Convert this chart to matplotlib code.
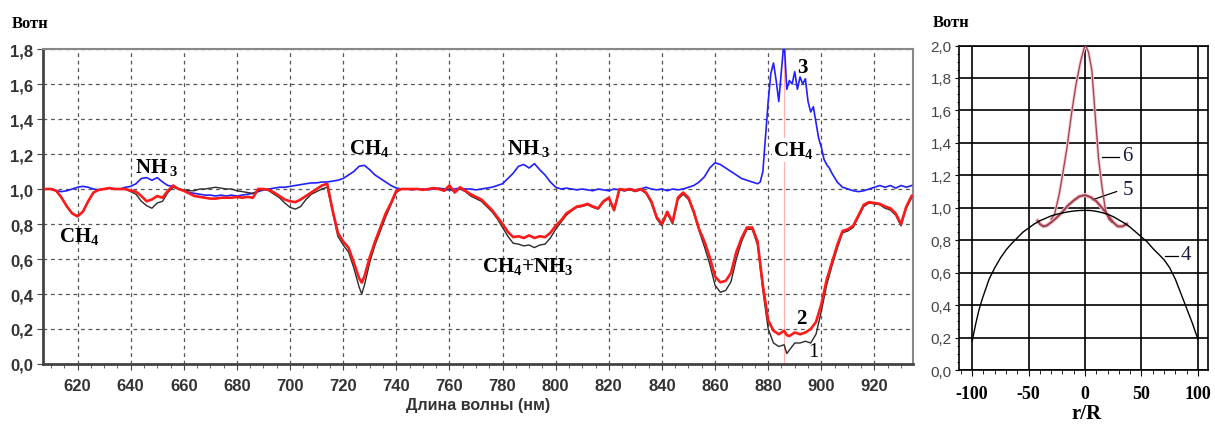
import matplotlib.pyplot as plt
from matplotlib.ticker import MultipleLocator

plt.rcParams['mathtext.fontset'] = 'custom'
plt.rcParams['mathtext.rm'] = 'Liberation Serif'
plt.rcParams['mathtext.bf'] = 'Liberation Serif:bold'

# --- левый график: спектры (длина волны, нм) ---
wl_rb = [608, 610, 612, 614, 616, 618, 620, 622, 624, 626,
         628, 630, 632, 634, 636, 638, 640, 642, 644, 646,
         648, 650, 652, 654, 656, 658, 660, 662, 664, 666,
         668, 670, 672, 674, 676, 678, 680, 682, 684, 686,
         688, 690, 692, 694, 696, 698, 700, 702, 704, 706,
         708, 710, 712, 714, 716, 718, 720, 722, 724, 726, 727,
         728, 730, 732, 734, 736, 738, 740, 742, 744, 746,
         748, 750, 752, 754, 756, 758, 760, 762, 764, 766,
         768, 770, 772, 774, 776, 778, 780, 782, 784, 786,
         788, 790, 792, 794, 796, 798, 800, 802, 804, 806,
         808, 810, 812, 814, 816, 818, 820, 822, 824, 826,
         828, 830, 832, 834, 836, 838, 840, 842, 844, 846,
         848, 850, 852, 854, 856, 858, 860, 862, 864, 866,
         868, 870, 872, 874, 876, 878, 880, 882, 884, 886, 887,
         888, 890, 892, 894, 896, 898, 900, 902, 904, 906,
         908, 910, 912, 914, 916, 918, 920, 922, 924, 926,
         928, 930, 932, 934]

# кривая 2 (красная)
r2 = [1.00, 1.00, 0.99, 0.95, 0.90, 0.86, 0.845, 0.87, 0.93, 0.98,
      0.995, 1.00, 1.005, 1.00, 1.00, 1.00, 0.99, 0.985, 0.96, 0.93,
      0.94, 0.96, 0.95, 0.99, 1.02, 1.00, 0.99, 0.975, 0.96, 0.955,
      0.95, 0.945, 0.945, 0.95, 0.95, 0.95, 0.955, 0.95, 0.955, 0.95,
      1.00, 1.00, 0.995, 0.98, 0.96, 0.94, 0.93, 0.925, 0.94, 0.96,
      0.98, 1.00, 1.02, 1.03, 0.88, 0.75, 0.70, 0.665, 0.58, 0.49, 0.465,
      0.50, 0.61, 0.70, 0.78, 0.86, 0.92, 0.99, 1.00, 1.00, 1.00,
      1.00, 0.995, 1.00, 1.005, 1.00, 0.99, 1.02, 0.98, 1.01, 0.99,
      0.97, 0.955, 0.94, 0.91, 0.88, 0.84, 0.80, 0.755, 0.725, 0.73,
      0.72, 0.735, 0.72, 0.73, 0.725, 0.75, 0.79, 0.82, 0.86, 0.88,
      0.90, 0.905, 0.915, 0.90, 0.89, 0.93, 0.95, 0.88, 1.00, 0.995,
      1.00, 0.99, 1.00, 0.98, 0.93, 0.84, 0.80, 0.87, 0.81, 0.95,
      0.98, 0.95, 0.87, 0.77, 0.70, 0.61, 0.50, 0.467, 0.475, 0.52,
      0.64, 0.72, 0.78, 0.78, 0.70, 0.45, 0.25, 0.19, 0.17, 0.19, 0.165,
      0.16, 0.18, 0.17, 0.18, 0.20, 0.24, 0.34, 0.48, 0.58, 0.68,
      0.76, 0.77, 0.79, 0.85, 0.91, 0.925, 0.92, 0.915, 0.90, 0.89,
      0.86, 0.80, 0.90, 0.96]

# кривая 1 (чёрная)
k1 = [1.00, 1.00, 0.99, 0.95, 0.90, 0.86, 0.84, 0.87, 0.93, 0.98,
      0.995, 1.00, 1.005, 1.00, 1.00, 1.00, 0.985, 0.97, 0.93, 0.905,
      0.89, 0.92, 0.93, 0.98, 1.01, 1.00, 0.995, 0.99, 0.99, 1.00,
      1.00, 1.005, 1.01, 1.005, 1.00, 1.00, 0.99, 0.985, 0.98, 0.975,
      0.99, 1.00, 0.99, 0.97, 0.95, 0.92, 0.895, 0.885, 0.90, 0.94,
      0.97, 0.985, 1.00, 1.01, 0.87, 0.73, 0.68, 0.64, 0.55, 0.44, 0.40,
      0.45, 0.58, 0.68, 0.76, 0.84, 0.91, 0.98, 1.00, 1.00, 1.00,
      1.00, 0.995, 1.00, 1.005, 1.00, 0.99, 1.00, 0.985, 1.00, 0.985,
      0.96, 0.945, 0.93, 0.90, 0.87, 0.83, 0.78, 0.73, 0.69, 0.685,
      0.675, 0.68, 0.665, 0.68, 0.685, 0.72, 0.77, 0.81, 0.85, 0.875,
      0.895, 0.90, 0.91, 0.895, 0.885, 0.925, 0.945, 0.875, 0.995, 0.99,
      0.995, 0.985, 0.995, 0.975, 0.92, 0.83, 0.79, 0.86, 0.80, 0.94,
      0.97, 0.94, 0.86, 0.76, 0.67, 0.57, 0.45, 0.41, 0.42, 0.47,
      0.60, 0.70, 0.77, 0.77, 0.68, 0.42, 0.20, 0.12, 0.10, 0.11, 0.06,
      0.08, 0.12, 0.12, 0.13, 0.12, 0.17, 0.30, 0.45, 0.56, 0.66,
      0.75, 0.76, 0.78, 0.84, 0.90, 0.92, 0.915, 0.91, 0.89, 0.88,
      0.85, 0.79, 0.89, 0.95]

# кривая 3 (синяя)
wl_blue = [608, 610, 612, 614, 616, 618, 620, 622, 624, 626,
           628, 630, 632, 634, 636, 638, 640, 642, 644, 646,
           648, 650, 652, 654, 656, 658, 660, 662, 664, 666,
           668, 670, 672, 674, 676, 678, 680, 682, 684, 686,
           688, 690, 692, 694, 696, 698, 700, 702, 704, 706,
           708, 710, 712, 714, 716, 718, 720, 722, 724, 726,
           728, 730, 732, 734, 736, 738, 740, 742, 744, 746,
           748, 750, 752, 754, 756, 758, 760, 762, 764, 766,
           768, 770, 772, 774, 776, 778, 780, 782, 784, 786,
           788, 790, 792, 794, 796, 798, 800, 802, 804, 806,
           808, 810, 812, 814, 816, 818, 820, 822, 824, 826,
           828, 830, 832, 834, 836, 838, 840, 842, 844, 846,
           848, 850, 852, 854, 856, 858, 860, 862, 864, 866,
           868, 870, 872, 874,
           876, 877, 878, 879, 880, 881, 882, 883, 884, 885,
           886, 887, 888, 889, 890, 891, 892, 893, 894, 895,
           896, 897, 898, 899, 900, 901, 902, 903, 904,
           906, 908, 910, 912, 914, 916, 918, 920, 922, 924,
           926, 928, 930, 932, 934]
b3 = [1.00, 1.00, 0.99, 0.985, 0.99, 1.00, 1.01, 1.015, 1.01, 1.00,
      0.995, 1.00, 1.005, 1.00, 1.00, 1.01, 1.015, 1.03, 1.06, 1.065,
      1.05, 1.065, 1.04, 1.02, 1.015, 1.00, 0.99, 0.98, 0.975, 0.97,
      0.965, 0.965, 0.96, 0.965, 0.96, 0.965, 0.96, 0.965, 0.97, 0.975,
      0.985, 0.995, 1.00, 1.005, 1.01, 1.01, 1.015, 1.02, 1.025, 1.03,
      1.035, 1.035, 1.04, 1.04, 1.045, 1.05, 1.06, 1.08, 1.10, 1.13,
      1.135, 1.11, 1.08, 1.06, 1.04, 1.02, 1.005, 1.00, 1.00, 0.995,
      1.00, 1.00, 0.995, 1.00, 1.005, 1.00, 0.995, 1.00, 1.005, 1.00,
      1.00, 0.995, 1.00, 1.005, 1.01, 1.02, 1.03, 1.06, 1.09, 1.13,
      1.14, 1.12, 1.145, 1.11, 1.08, 1.04, 1.01, 1.00, 1.005, 1.00,
      0.995, 1.00, 0.995, 0.99, 1.00, 0.995, 0.99, 1.00, 0.995, 0.99,
      1.00, 0.995, 1.00, 1.01, 1.00, 0.995, 1.00, 0.99, 1.00, 0.995,
      1.00, 1.01, 1.02, 1.04, 1.07, 1.12, 1.15, 1.14, 1.12, 1.10,
      1.08, 1.06, 1.05, 1.04,
      1.03, 1.04, 1.10, 1.30, 1.50, 1.66, 1.72, 1.62, 1.50, 1.68,
      1.85, 1.57, 1.62, 1.60, 1.67, 1.57, 1.64, 1.60, 1.63, 1.50,
      1.44, 1.47, 1.38, 1.29, 1.24, 1.17, 1.14, 1.12, 1.09,
      1.04, 1.01, 1.00, 0.99, 0.985, 0.99, 1.00, 1.01, 1.02, 1.01,
      1.02, 1.005, 1.02, 1.01, 1.02]

x_ticks = [620, 640, 660, 680, 700, 720, 740, 760, 780, 800, 820, 840, 860, 880, 900, 920]
y_ticks = [0.0, 0.2, 0.4, 0.6, 0.8, 1.0, 1.2, 1.4, 1.6, 1.8]
y_labels = ['0,0', '0,2', '0,4', '0,6', '0,8', '1,0', '1,2', '1,4', '1,6', '1,8']

# --- правый график: профили по r/R ---
x4 = [-100, -97, -94, -91, -88, -85, -80, -75, -70, -65, -60, -55, -50, -45, -40,
      -35, -30, -25, -20, -15, -10, -5, 0, 5, 10, 15, 20, 25, 30, 35, 40, 45,
      50, 55, 60, 65, 70, 75, 80, 85, 90, 95, 100]
y4 = [0.18, 0.28, 0.37, 0.44, 0.50, 0.56, 0.63, 0.69, 0.74, 0.78, 0.815, 0.85, 0.875,
      0.90, 0.92, 0.935, 0.95, 0.96, 0.968, 0.975, 0.98, 0.983, 0.984, 0.983, 0.978,
      0.97, 0.96, 0.945, 0.925, 0.905, 0.88, 0.85, 0.82, 0.79, 0.75, 0.715, 0.68,
      0.63, 0.56, 0.47, 0.38, 0.29, 0.19]
x5 = [-42, -40, -37, -34, -30, -25, -20, -15, -10, -5, 0, 5, 10, 15, 20, 25, 29, 33, 37]
y5 = [0.92, 0.90, 0.885, 0.89, 0.91, 0.94, 0.975, 1.015, 1.045, 1.07, 1.078, 1.065,
      1.04, 1.00, 0.955, 0.91, 0.885, 0.885, 0.90]
x6 = [-30, -27, -23, -20, -16, -12, -8, -4, -1, 0.5, 3, 6, 9, 12, 15, 18, 21, 24]
y6 = [0.93, 0.96, 1.08, 1.20, 1.37, 1.58, 1.76, 1.90, 1.98, 2.0, 1.96, 1.85, 1.57,
      1.30, 1.13, 0.99, 0.93, 0.91]
rx_ticks = [-100, -50, 0, 50, 100]
ry_ticks = [0.0, 0.2, 0.4, 0.6, 0.8, 1.0, 1.2, 1.4, 1.6, 1.8, 2.0]
ry_labels = ['0,0', '0,2', '0,4', '0,6', '0,8', '1,0', '1,2', '1,4', '1,6', '1,8', '2,0']

fig = plt.figure(figsize=(12.15, 4.27), dpi=100)
ax = fig.add_axes([0.0354, 0.1452, 0.716, 0.7377])
ax2 = fig.add_axes([0.789, 0.1311, 0.2053, 0.760])

# левый
ax.axvline(886, color='#ffb0b0', lw=0.9, zorder=1)
ax.plot(wl_blue, b3, color='#2020ff', lw=1.2, zorder=3)
ax.plot(wl_rb, k1, color='#2b2b2b', lw=1.0, zorder=4)
ax.plot(wl_rb, r2, color='#ff1a1a', lw=1.9, zorder=5)
ax.set_xlim(607, 934.5)
ax.set_ylim(0, 1.8)
ax.set_xticks(x_ticks)
ax.set_xticklabels([str(v) for v in x_ticks], fontsize=12, fontweight='bold',
                   family='Liberation Sans', color='#333333')
ax.set_yticks(y_ticks)
ax.set_yticklabels(y_labels, fontsize=12, fontweight='bold',
                   family='Liberation Sans', color='#333333')
ax.xaxis.set_minor_locator(MultipleLocator(5))
ax.tick_params(axis='x', which='major', length=4, pad=6, color='#444444')
ax.tick_params(axis='x', which='minor', length=3, color='#444444')
ax.tick_params(axis='y', length=4, pad=3, color='#444444')
ax.grid(True, which='major', color='#555555', ls=(0, (3, 3)), lw=0.9)
for s in ['left', 'bottom']:
    ax.spines[s].set_linewidth(2)
    ax.spines[s].set_color('#444444')
for s in ['top', 'right']:
    ax.spines[s].set_linewidth(1.5)
    ax.spines[s].set_color('#888888')

lab = dict(ha='center', va='center', fontsize=15, zorder=6)
ax.text(620.5, 0.735, r'$\mathbf{CH_4}$', **lab)
ax.text(650, 1.13, r'$\mathbf{NH\,{}_3}$', **lab)
ax.text(730, 1.24, r'$\mathbf{CH_4}$', **lab)
ax.text(790, 1.235, r'$\mathbf{NH\,{}_3}$', **lab)
ax.text(789.5, 0.565, r'$\mathbf{CH_4{+}NH_3}$', **lab)
ax.text(889.5, 1.225, r'$\mathbf{CH_4}$',
        bbox=dict(facecolor='white', edgecolor='none', pad=1), **lab)
num = dict(ha='center', va='center', fontsize=15, family='Liberation Serif', zorder=6)
ax.text(893, 1.70, '3', fontweight='bold', **num)
ax.text(892.5, 0.265, '2', fontweight='bold', **num)
ax.text(897, 0.07, '1', **num)

fig.text(478 / 1215, 1 - 406 / 427, 'Длина волны (нм)', ha='center', va='center',
         fontsize=11.5, fontweight='bold', family='Liberation Sans', color='#333333')
fig.text(12 / 1215, 1 - 24 / 427, 'Вотн', ha='left', va='center', fontsize=12,
         fontweight='bold', family='Liberation Serif')

# правый
ax2.plot(x6, y6, color='#f4c8ce', lw=2.2, zorder=2)
ax2.plot(x6, y6, color='#a04050', lw=0.9, zorder=3)
ax2.plot(x5, y5, color='#f4c8ce', lw=3.0, zorder=2)
ax2.plot(x5, y5, color='#a04050', lw=1.5, zorder=3)
ax2.plot(x4, y4, color='black', lw=1.0, zorder=4)
ax2.set_xlim(-112, 109)
ax2.set_ylim(0, 2.0)
ax2.set_xticks(rx_ticks)
ax2.set_xticklabels([str(v) for v in rx_ticks], fontsize=13, fontweight='bold',
                    family='Liberation Serif')
ax2.set_yticks(ry_ticks)
ax2.set_yticklabels(ry_labels, fontsize=11, family='Liberation Sans', color='#444444')
ax2.xaxis.set_minor_locator(MultipleLocator(10))
ax2.yaxis.set_minor_locator(MultipleLocator(0.05))
ax2.tick_params(axis='x', which='major', length=4, pad=7)
ax2.tick_params(axis='x', which='minor', length=3)
ax2.tick_params(axis='y', which='major', length=3, pad=2)
ax2.tick_params(axis='y', which='minor', length=1.5)
ax2.grid(True, which='major', color='black', lw=1.2)
for s in ax2.spines.values():
    s.set_linewidth(1.2)

ln = dict(color='black', lw=0.9)
ax2.plot([15, 30], [1.31, 1.31], **ln)
ax2.plot([7, 28], [1.05, 1.10], **ln)
ax2.plot([71, 82], [0.70, 0.70], **ln)
rn = dict(ha='left', va='center', fontsize=15, family='Liberation Serif', color='#1a1a40')
ax2.text(33, 1.32, '6', **rn)
ax2.text(33, 1.11, '5', **rn)
ax2.text(85, 0.71, '4', **rn)

fig.text(933 / 1215, 1 - 23 / 427, 'Вотн', ha='left', va='center', fontsize=12,
         fontweight='bold', family='Liberation Serif')
fig.text(1087 / 1215, 1 - 414 / 427, 'r/R', ha='center', va='center', fontsize=15,
         fontweight='bold', family='Liberation Serif')

fig.savefig('out.png', dpi=100)
